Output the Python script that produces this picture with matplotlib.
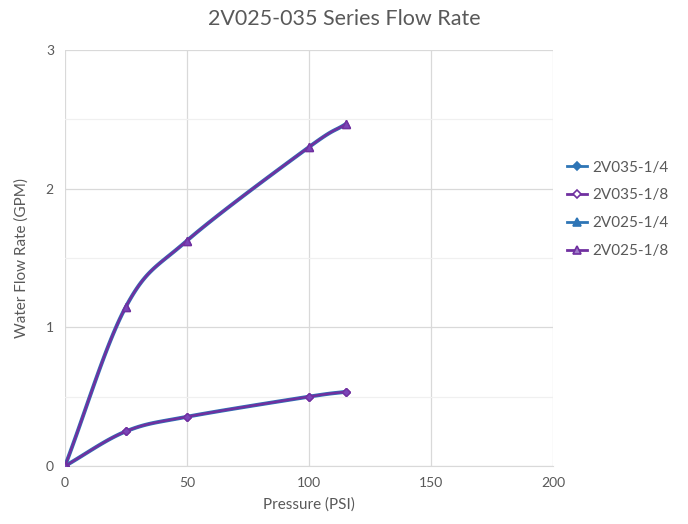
import numpy as np
import matplotlib.pyplot as plt
from matplotlib.ticker import MultipleLocator

plt.rcParams['font.family'] = ['Lato', 'DejaVu Sans']

psi = [0, 25, 50, 100, 115]
v035_14 = [0, 0.25, 0.355, 0.50, 0.535]
v035_18 = [0, 0.25, 0.355, 0.50, 0.535]
v025_14 = [0, 1.15, 1.625, 2.30, 2.465]
v025_18 = [0, 1.15, 1.625, 2.30, 2.465]
labels = ['2V035-1/4', '2V035-1/8', '2V025-1/4', '2V025-1/8']

blue = '#2E75B6'
purple = '#7030A0'
grey = '#595959'


def smooth(x, y, n=30):
    # Catmull-Rom style smoothing like Excel's "smoothed line"
    x = np.asarray(x, float)
    y = np.asarray(y, float)
    px = np.concatenate([[2 * x[0] - x[1]], x, [2 * x[-1] - x[-2]]])
    py = np.concatenate([[2 * y[0] - y[1]], y, [2 * y[-1] - y[-2]]])
    xs, ys = [], []
    t = np.linspace(0, 1, n)
    for i in range(1, len(px) - 2):
        for p, out in ((px, xs), (py, ys)):
            p0, p1, p2, p3 = p[i - 1], p[i], p[i + 1], p[i + 2]
            out.extend(0.5 * (2 * p1 + (-p0 + p2) * t
                              + (2 * p0 - 5 * p1 + 4 * p2 - p3) * t ** 2
                              + (-p0 + 3 * p1 - 3 * p2 + p3) * t ** 3))
    return xs, ys


fig = plt.figure(figsize=(6.88, 5.24), dpi=100)
ax = fig.add_axes([65 / 688, 1 - 466 / 524, (553 - 65) / 688, (466 - 50) / 524])

series = [
    (v035_14, blue, 'D', blue, 4.5, 2.8),
    (v035_18, purple, 'D', 'white', 4.5, 1.8),
    (v025_14, blue, '^', blue, 5.5, 2.8),
    (v025_18, purple, '^', '#9E7CC8', 5.5, 1.8),
]
for (vals, col, mk, mfc, ms, lw), lab in zip(series, labels):
    sx, sy = smooth(psi, vals)
    ax.plot(sx, sy, color=col, lw=lw, solid_capstyle='round', zorder=3)
    # overlapping markers end up purple-filled on the chart
    ax.plot(psi, vals, ls='none', marker=mk, ms=ms, mfc='#7A45B8', mec=purple,
            mew=1.0, zorder=4)
    ax.plot([], [], color=col, lw=2.0, marker=mk, ms=ms, mfc=mfc, mec=col,
            mew=1.2, label=lab)

ax.set_xlim(0, 200)
ax.set_ylim(0, 3)
ax.xaxis.set_major_locator(MultipleLocator(50))
ax.yaxis.set_major_locator(MultipleLocator(1))
ax.yaxis.set_minor_locator(MultipleLocator(0.5))
ax.grid(which='major', color='#D9D9D9', lw=0.9)
ax.grid(which='minor', axis='y', color='#F0F0F0', lw=0.9)
ax.set_axisbelow(True)
for s in ax.spines.values():
    s.set_visible(False)
ax.spines['bottom'].set_visible(True)
ax.spines['bottom'].set_color('#D9D9D9')
ax.tick_params(which='both', length=0, labelsize=10, labelcolor=grey, pad=8)

ax.set_xlabel('Pressure (PSI)', fontsize=11, color=grey, labelpad=6)
ax.set_ylabel('Water Flow Rate (GPM)', fontsize=11, color=grey, labelpad=12)
fig.text(0.5, 1 - 19 / 524, '2V025-035 Series Flow Rate', ha='center', va='center',
         fontsize=15.5, color=grey)

leg = ax.legend(loc='center left', bbox_to_anchor=(1.0, 0.617), frameon=False,
                fontsize=11, handlelength=1.3, labelspacing=0.9, handletextpad=0.4)
for t in leg.get_texts():
    t.set_color(grey)

fig.savefig('out.png', dpi=100)
